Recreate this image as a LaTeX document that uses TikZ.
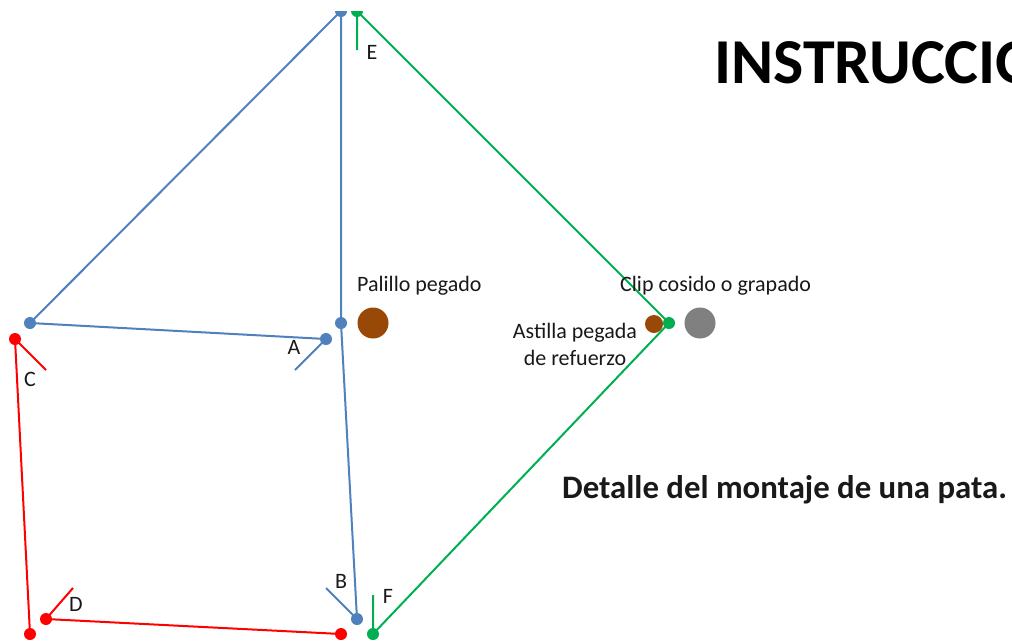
\documentclass[tikz,border=0pt]{standalone}
\usepackage{fontspec}
\setmainfont{Carlito}
\definecolor{bluel}{HTML}{4F81BD}
\definecolor{greenl}{HTML}{00B050}
\definecolor{redl}{HTML}{FF0000}
\definecolor{brownd}{HTML}{984807}
\definecolor{greyd}{HTML}{808080}
\tikzset{
  x=1pt,y=-1pt,
  dotb/.style={circle,inner sep=0pt,minimum size=12pt,fill=bluel},
  dotg/.style={circle,inner sep=0pt,minimum size=12pt,fill=greenl},
  dotr/.style={circle,inner sep=0pt,minimum size=12pt,fill=redl},
  lb/.style={draw=bluel,line width=2pt},
  lg/.style={draw=greenl,line width=2pt},
  lr/.style={draw=redl,line width=2pt},
  lbl/.style={inner sep=0pt,font=\fontsize{22}{27}\selectfont,text=black!90,align=center},
  big/.style={circle,inner sep=0pt,minimum size=31pt},
}
\begin{document}
\begin{tikzpicture}
\useasboundingbox (0,0) rectangle (1012,641);
\fill[white] (0,0) rectangle (1012,641);
\begin{scope}
\clip (0,11) rectangle (1012,641);
% blue
\node[dotb] (bt) at (341,11) {};
\node[dotb] (bc) at (30,323) {};
\node[dotb] (bm) at (341,323) {};
\node[dotb] (ba) at (326,339) {};
\node[dotb] (bb) at (357,619) {};
\coordinate (at) at (295,370);
\coordinate (bbt) at (326,588);
\draw[lb] (bt.center) -- (bc.center) -- (ba.center) -- (at);
\draw[lb] (bt.center) -- (bm.center) -- (bb.center) -- (bbt);
% green
\node[dotg] (gt) at (357,11) {};
\node[dotg] (gm) at (669,323) {};
\node[dotg] (gb) at (373,634) {};
\coordinate (et) at (357,50);
\coordinate (ft) at (373,595);
\draw[lg] (et) -- (gt.center) -- (gm.center) -- (gb.center) -- (ft);
% red
\node[dotr] (rc) at (15,339) {};
\node[dotr] (rb) at (30,634) {};
\node[dotr] (rd) at (46,619) {};
\node[dotr] (rr) at (341,634) {};
\coordinate (ct) at (46,370);
\coordinate (dt) at (73,588);
\draw[lr] (ct) -- (rc.center) -- (rb.center);
\draw[lr] (dt) -- (rd.center) -- (rr.center);
\end{scope}
% big dots
\node[big,fill=brownd] (pal) at (373,323) {};
\node[big,fill=greyd] (clip) at (700,323) {};
\node[circle,inner sep=0pt,minimum width=18pt,minimum height=17pt,fill=brownd] (ast) at (654,324) {};
% labels
\node[lbl,anchor=base] (le) at (372,59) {E};
\node[lbl,anchor=base] (lc) at (30,386) {C};
\node[lbl,anchor=base] (la) at (294,354) {A};
\node[lbl,anchor=base] (lb1) at (341,588) {B};
\node[lbl,anchor=base] (ld) at (76,611) {D};
\node[lbl,anchor=base] (lf) at (388,603) {F};
\node[lbl,anchor=base west] (lp) at (357,291) {Palillo pegado};
\node[lbl,anchor=base west] (lcl) at (620,291) {Clip cosido o grapado};
\node[lbl,anchor=base] (la1) at (575,338) {Astilla pegada};
\node[lbl,anchor=base] (la2) at (575,365) {de refuerzo};
\node[inner sep=0pt,anchor=base west,font=\fontsize{32.8}{39}\bfseries\selectfont,text=black!90] (det) at (562,498) {Detalle del montaje de una pata.};
\begin{scope}
\clip (0,0) rectangle (1012,641);
\node[inner sep=0pt,anchor=base west,font=\fontsize{64}{77}\bfseries\selectfont,text=black] (tit) at (714,83) {INSTRUCCIO};
\end{scope}
\end{tikzpicture}
\end{document}
